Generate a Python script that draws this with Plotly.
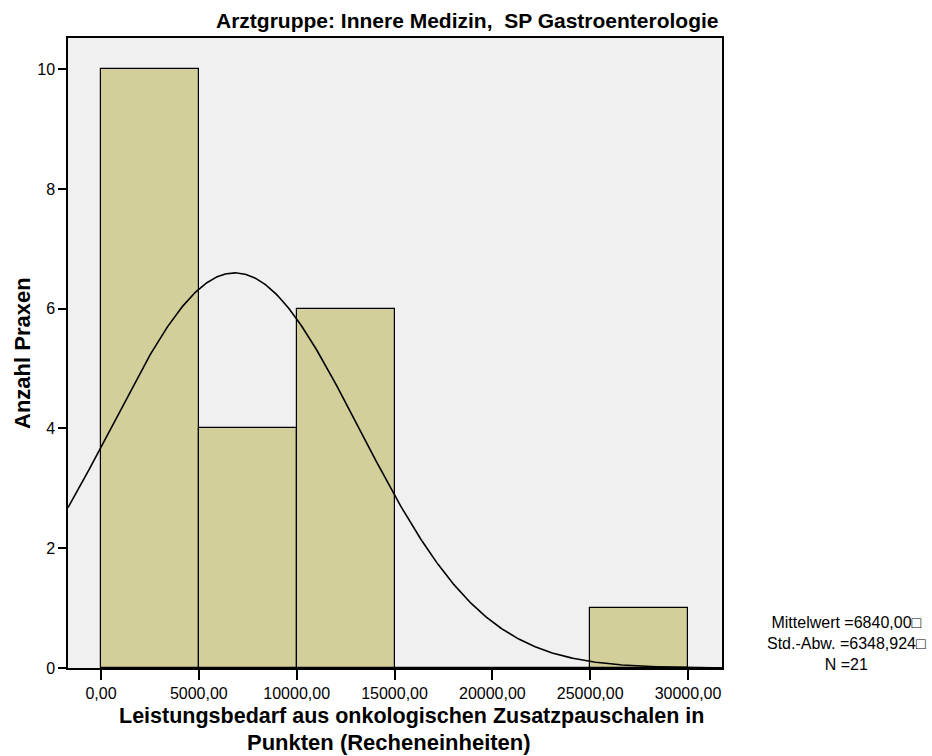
import numpy as np
import plotly.graph_objects as go

# Histogram bins (lower edges) and counts of practices
bin_starts = [0, 5000, 10000, 15000, 20000, 25000]
bin_width = 5000
counts = [10, 4, 6, 0, 0, 1]

# Summary statistics shown beside the chart
mean_val = 6840.00
sd_val = 6348.924
n_val = 21
stat_lines = ["Mittelwert =6840,00\u25a1", "Std.-Abw. =6348,924\u25a1", "N =21"]

x_ticks = [0, 5000, 10000, 15000, 20000, 25000, 30000]
x_tick_labels = ["0,00", "5000,00", "10000,00", "15000,00", "20000,00", "25000,00", "30000,00"]
y_ticks = [0, 2, 4, 6, 8, 10]

x_range = [-1686, 31737]
y_range = [0, 10.52]

FONT = "Liberation Sans, Arial, Helvetica, sans-serif"

# Plot area geometry in pixels
W, H = 932, 756
L, R, T, B = 68, 210, 38, 88
PW, PH = W - L - R, H - T - B


def px_x(px):
    return (px - L) / PW


def px_y(py):
    return (H - B - py) / PH


fig = go.Figure()

fig.add_trace(go.Bar(
    x=[s + bin_width / 2 for s in bin_starts],
    y=counts,
    width=bin_width,
    marker=dict(color="#d3cf9a", line=dict(color="black", width=1.2)),
    hoverinfo="x+y",
))

# Normal curve scaled to counts per bin
xs = np.linspace(x_range[0], x_range[1], 400)
ys = n_val * bin_width / (sd_val * np.sqrt(2 * np.pi)) * np.exp(-0.5 * ((xs - mean_val) / sd_val) ** 2)
fig.add_trace(go.Scatter(x=xs, y=ys, mode="lines", line=dict(color="black", width=1.6), hoverinfo="skip"))

fig.update_layout(
    width=W, height=H,
    margin=dict(l=L, r=R, t=T, b=B),
    paper_bgcolor="white",
    plot_bgcolor="#f0f0f0",
    showlegend=False,
    bargap=0,
    font=dict(family=FONT, color="black"),
    xaxis=dict(
        range=x_range, tickvals=x_ticks, ticktext=x_tick_labels,
        showgrid=False, zeroline=False,
        showline=True, linecolor="black", linewidth=1.5, mirror=True,
        ticks="outside", ticklen=10, tickwidth=1.5, tickcolor="black",
        tickfont=dict(size=16, family=FONT),
    ),
    yaxis=dict(
        range=y_range, tickvals=y_ticks,
        showgrid=False, zeroline=False,
        showline=True, linecolor="black", linewidth=1.5, mirror=True,
        ticks="outside", ticklen=8, tickwidth=1.5, tickcolor="black",
        tickfont=dict(size=16, family=FONT),
    ),
)

# Chart title, right-aligned to the plot frame
fig.add_annotation(
    text="<b>Arztgruppe: Innere Medizin,  SP Gastroenterologie</b>",
    xref="paper", yref="paper", x=px_x(721), y=px_y(20), xanchor="right", yanchor="middle",
    showarrow=False, font=dict(size=21, family=FONT),
)

# Axis titles
fig.add_annotation(
    text="<b>Leistungsbedarf aus onkologischen Zusatzpauschalen in</b>",
    xref="paper", yref="paper", x=px_x(411), y=px_y(716), xanchor="center", yanchor="middle",
    showarrow=False, font=dict(size=21.5, family=FONT),
)
fig.add_annotation(
    text="<b>Punkten (Recheneinheiten)</b>",
    xref="paper", yref="paper", x=px_x(389), y=px_y(742), xanchor="center", yanchor="middle",
    showarrow=False, font=dict(size=22, family=FONT),
)
fig.add_annotation(
    text="<b>Anzahl Praxen</b>",
    xref="paper", yref="paper", x=px_x(22), y=px_y(353), xanchor="center", yanchor="middle",
    textangle=-90, showarrow=False, font=dict(size=22, family=FONT),
)

# Statistics block
fig.add_annotation(
    text="<br>".join(stat_lines),
    xref="paper", yref="paper", x=px_x(846), y=px_y(643), xanchor="center", yanchor="middle",
    align="center", showarrow=False, font=dict(size=16, family=FONT),
)

fig.write_html("out.html")
